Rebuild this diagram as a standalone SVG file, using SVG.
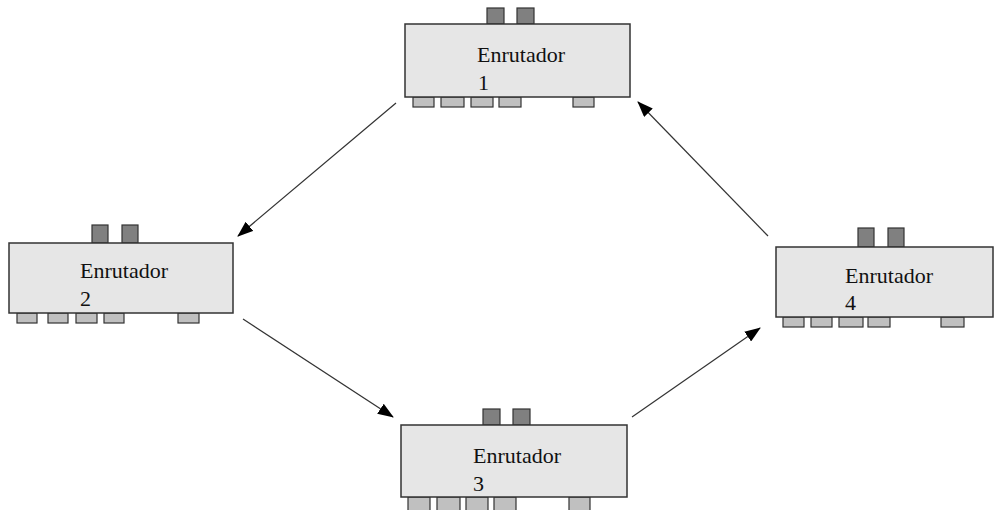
<svg xmlns="http://www.w3.org/2000/svg" width="994" height="510" viewBox="0 0 994 510">
  <style>
    .body { fill: #e6e6e6; stroke: #333333; stroke-width: 1.5; }
    .jack { fill: #808080; stroke: #333333; stroke-width: 1.2; }
    .port { fill: #c0c0c0; stroke: #333333; stroke-width: 1.2; }
    .label { font-family: "Liberation Serif", "Times New Roman", serif; font-size: 22px; fill: #111111; }
    .link { stroke: #333333; stroke-width: 1.2; fill: none; marker-end: url(#head); }
  </style>
  <defs>
    <marker id="head" viewBox="0 0 16 12" refX="15" refY="6" markerWidth="16" markerHeight="12" markerUnits="userSpaceOnUse" orient="auto">
      <path d="M0,0 L16,6 L0,12 Z" fill="#000000"/>
    </marker>
  </defs>

  <g id="links">
    <line class="link" x1="396" y1="103" x2="238" y2="236"/>
    <line class="link" x1="243" y1="319" x2="393" y2="417"/>
    <line class="link" x1="632" y1="417" x2="760" y2="328"/>
    <line class="link" x1="768" y1="236" x2="638" y2="102"/>
  </g>

  <g id="router1">
    <rect class="jack" x="487" y="8" width="17" height="16"/>
    <rect class="jack" x="517" y="8" width="17" height="16"/>
    <rect class="port" x="413" y="97" width="21" height="10"/>
    <rect class="port" x="441" y="97" width="23" height="10"/>
    <rect class="port" x="471" y="97" width="22" height="10"/>
    <rect class="port" x="499" y="97" width="22" height="10"/>
    <rect class="port" x="573" y="97" width="21" height="10"/>
    <rect class="body" x="405" y="24" width="225" height="73"/>
    <text class="label" x="477" y="62">Enrutador</text>
    <text class="label" x="478" y="90">1</text>
  </g>

  <g id="router2">
    <rect class="jack" x="92" y="225" width="16" height="18"/>
    <rect class="jack" x="122" y="225" width="16" height="18"/>
    <rect class="port" x="17" y="313" width="20" height="10"/>
    <rect class="port" x="48" y="313" width="20" height="10"/>
    <rect class="port" x="76" y="313" width="21" height="10"/>
    <rect class="port" x="104" y="313" width="20" height="10"/>
    <rect class="port" x="178" y="313" width="21" height="10"/>
    <rect class="body" x="9" y="243" width="224" height="70"/>
    <text class="label" x="80" y="278">Enrutador</text>
    <text class="label" x="80" y="306">2</text>
  </g>

  <g id="router3">
    <rect class="jack" x="483" y="409" width="17" height="16"/>
    <rect class="jack" x="513" y="409" width="17" height="16"/>
    <rect class="port" x="408" y="497" width="22" height="14"/>
    <rect class="port" x="437" y="497" width="23" height="14"/>
    <rect class="port" x="466" y="497" width="22" height="14"/>
    <rect class="port" x="494" y="497" width="22" height="14"/>
    <rect class="port" x="569" y="497" width="21" height="14"/>
    <rect class="body" x="401" y="425" width="226" height="72"/>
    <text class="label" x="473" y="463">Enrutador</text>
    <text class="label" x="473" y="491">3</text>
  </g>

  <g id="router4">
    <rect class="jack" x="858" y="228" width="16" height="19"/>
    <rect class="jack" x="888" y="228" width="16" height="19"/>
    <rect class="port" x="783" y="317" width="21" height="10"/>
    <rect class="port" x="811" y="317" width="21" height="10"/>
    <rect class="port" x="839" y="317" width="24" height="10"/>
    <rect class="port" x="868" y="317" width="22" height="10"/>
    <rect class="port" x="941" y="317" width="23" height="10"/>
    <rect class="body" x="776" y="247" width="217" height="70"/>
    <text class="label" x="845" y="283">Enrutador</text>
    <text class="label" x="845" y="310">4</text>
  </g>
</svg>
